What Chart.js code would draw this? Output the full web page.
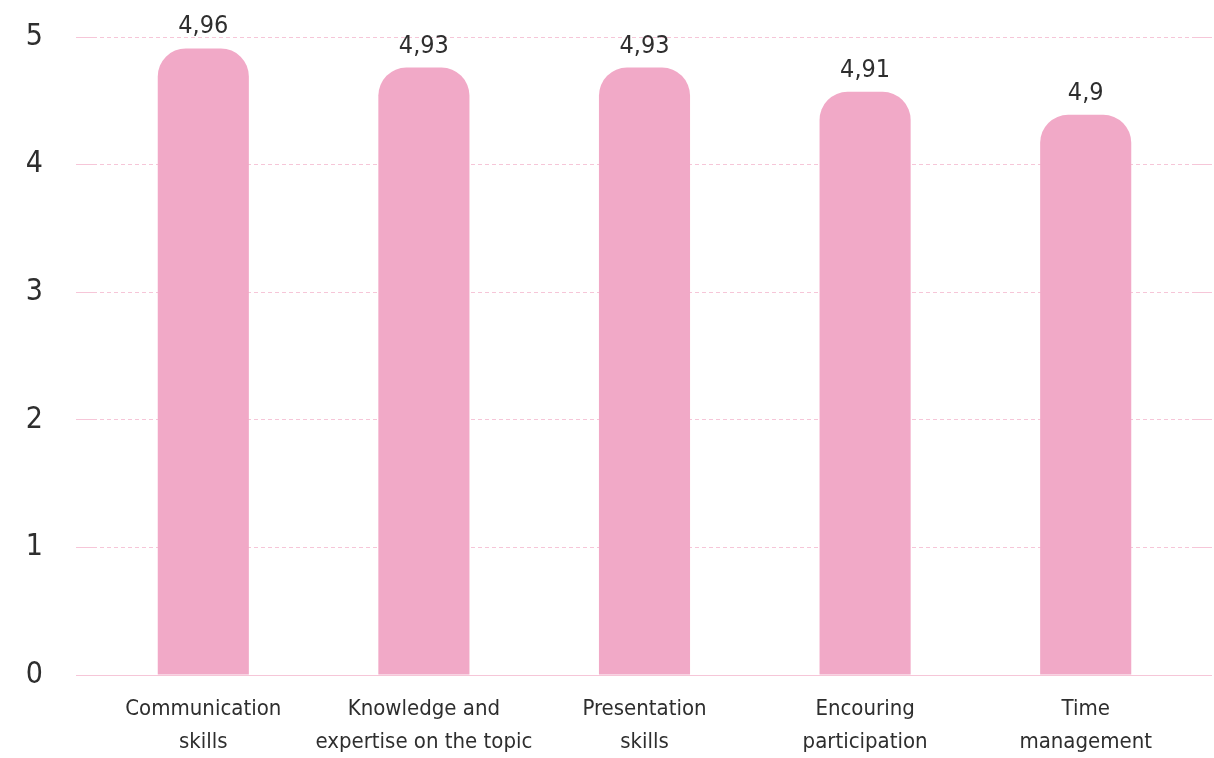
<!DOCTYPE html>
<html>
<head>
<meta charset="utf-8">
<script src="https://cdn.jsdelivr.net/npm/chart.js@4/dist/chart.umd.min.js"></script>
<style>
    html, body { margin: 0; padding: 0; background: #ffffff; }
    #wrap { width: 1214px; height: 758px; }
</style>
</head>
<body>
<div id="wrap"><canvas id="scoreChart"></canvas></div>
<script>
/* ================= DATA ================= */

const categories = [
    ["Communication", "skills"],
    ["Knowledge and", "expertise on the topic"],
    ["Presentation", "skills"],
    ["Encouring", "participation"],
    ["Time", "management"]
];

// bar heights as they appear against the axis
const barValues = [4.91, 4.76, 4.76, 4.57, 4.39];

// numbers printed above the bars
const valueLabels = ["4,96", "4,93", "4,93", "4,91", "4,9"];

const yTicks = [0, 1, 2, 3, 4, 5];

/* ================= STYLE ================= */

const FONT = "'DejaVu Sans Condensed', 'DejaVu Sans', sans-serif";
const TEXT = "#2e2e2e";
const PINK = "#f1a9c7";
const GRID = "#f6c6d8";

/* ================= LABEL PLUGIN ================= */

const barLabels = {
    id: "barLabels",
    afterDatasetsDraw(chart) {
        const { ctx } = chart;
        const meta = chart.getDatasetMeta(0);
        ctx.save();
        ctx.font = "25px " + FONT;
        ctx.fillStyle = TEXT;
        ctx.textAlign = "center";
        ctx.textBaseline = "bottom";
        meta.data.forEach((bar, i) => {
            ctx.fillText(valueLabels[i], bar.x, bar.y - 9);
        });
        ctx.restore();
    }
};

/* ================= CHART ================= */

const gridDash = ctx => (ctx.tick && ctx.tick.value === 0) ? [] : [4, 3];

new Chart(document.getElementById("scoreChart"), {
    type: "bar",
    data: {
        labels: categories,
        datasets: [{
            data: barValues,
            backgroundColor: PINK,
            borderRadius: { topLeft: 28, topRight: 28 },
            borderSkipped: "bottom",
            barPercentage: 0.413,
            categoryPercentage: 1
        }]
    },
    options: {
        responsive: true,
        maintainAspectRatio: false,
        animation: false,
        layout: { padding: { top: 37, left: 0, right: 2, bottom: 0 } },
        plugins: {
            legend: { display: false },
            tooltip: { enabled: false }
        },
        scales: {
            x: {
                grid: { display: false },
                border: { display: true, color: GRID, width: 1 },
                afterFit: s => { s.height = 83; },
                ticks: {
                    color: TEXT,
                    padding: 10,
                    maxRotation: 0,
                    minRotation: 0,
                    autoSkip: false,
                    font: { family: FONT, size: 22, lineHeight: 1.5 }
                }
            },
            y: {
                min: yTicks[0],
                max: yTicks[yTicks.length - 1],
                afterBuildTicks: s => { s.ticks = yTicks.map(v => ({ value: v })); },
                afterFit: s => { s.width = 93; s.paddingTop = 0; s.paddingBottom = 0; },
                grid: {
                    color: GRID,
                    tickLength: 17,
                    lineWidth: 1
                },
                border: { display: false, dash: gridDash },
                ticks: {
                    color: TEXT,
                    padding: 33,
                    font: { family: FONT, size: 30 }
                }
            },
            yRight: {
                position: "right",
                min: yTicks[0],
                max: yTicks[yTicks.length - 1],
                afterBuildTicks: s => { s.ticks = yTicks.map(v => ({ value: v })); },
                afterFit: s => { s.paddingTop = 0; s.paddingBottom = 0; },
                grid: {
                    color: GRID,
                    tickLength: 16,
                    drawOnChartArea: false
                },
                border: { display: false, dash: gridDash },
                ticks: { display: false }
            }
        }
    },
    plugins: [barLabels]
});
</script>
</body>
</html>
